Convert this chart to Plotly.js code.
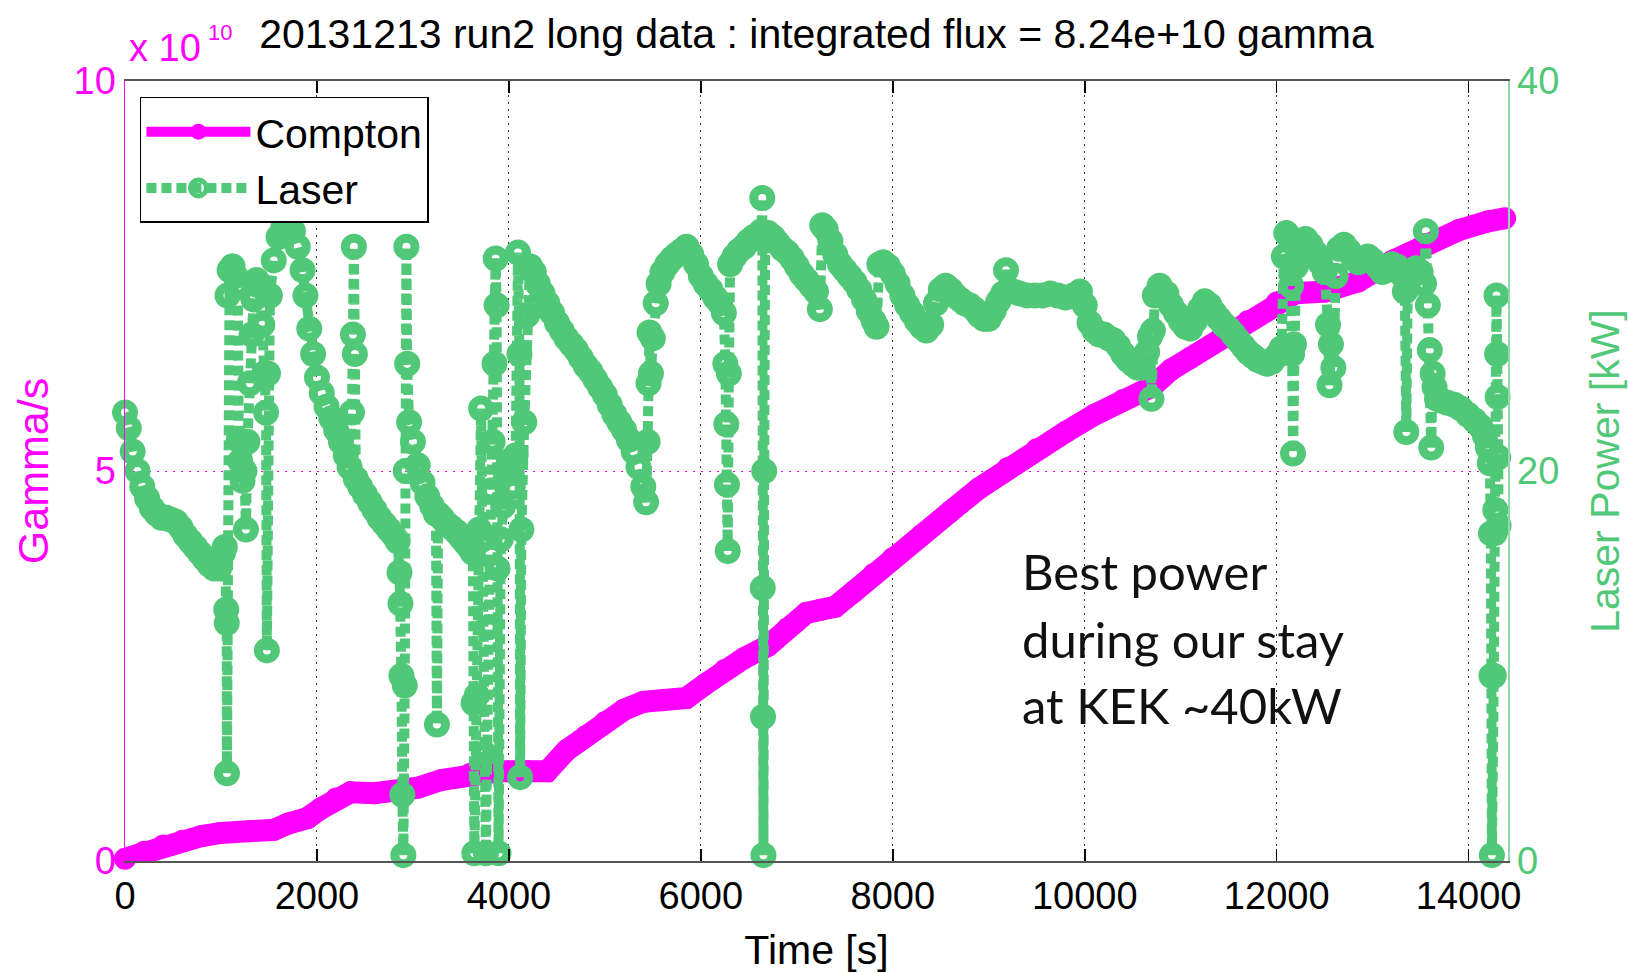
<!DOCTYPE html>
<html>
<head>
<meta charset="utf-8">
<script src="https://cdn.plot.ly/plotly-3.0.1.min.js"></script>
<style>
  html, body { margin: 0; padding: 0; background: #ffffff; }
  #chart { width: 1628px; height: 973px; }
</style>
</head>
<body>
<div id="chart"></div>
<script>
// ---- Data ----
// Compton (integrated gammas, in units of 1e10) vs time [s]
const comptonTime = [0, 200, 400, 600, 800, 1000, 1300, 1550, 1700, 1900, 2050, 2200, 2350, 2600, 2850,
  3050, 3300, 3600, 3900, 4200, 4400, 4600, 4800, 5000, 5200, 5400, 5600, 5850, 6050, 6250, 6450,
  6700, 6900, 7100, 7250, 7400, 7600, 7800, 8000, 8300, 8600, 8900, 9200, 9500, 9800, 10100, 10400,
  10700, 10900, 11100, 11400, 11700, 12000, 12200, 12500, 12850, 13200, 13550, 13900, 14200, 14380];
const comptonValue = [0.03, 0.12, 0.2, 0.26, 0.32, 0.36, 0.38, 0.4, 0.48, 0.55, 0.68, 0.8, 0.88, 0.87, 0.87,
  0.94, 1.04, 1.12, 1.15, 1.15, 1.15, 1.42, 1.6, 1.78, 1.94, 2.04, 2.06, 2.09, 2.27, 2.45, 2.6,
  2.76, 2.98, 3.18, 3.22, 3.26, 3.46, 3.68, 3.88, 4.18, 4.48, 4.78, 5.04, 5.28, 5.5, 5.72, 5.91,
  6.08, 6.3, 6.45, 6.68, 6.92, 7.16, 7.28, 7.3, 7.43, 7.69, 7.91, 8.09, 8.2, 8.24];

// Laser power [kW] vs time [s]
const laserTime = [0, 40, 80, 130, 180, 230, 280, 330, 380, 430, 480, 530, 580, 630, 680, 730, 780, 830, 880, 930, 980,
  1020, 1040, 1055, 1060, 1062, 1068, 1090, 1120, 1150, 1175, 1185, 1200, 1225, 1245, 1260, 1275, 1300, 1320, 1340,
  1370, 1400, 1430, 1450, 1470, 1478, 1490, 1510, 1550, 1600, 1650, 1700, 1750, 1800, 1850, 1880, 1920, 1960, 2000,
  2050, 2100, 2150, 2200, 2250, 2300, 2340, 2365, 2375, 2385, 2395, 2405, 2450, 2500, 2550, 2600, 2650, 2700, 2750,
  2800, 2840, 2860, 2870, 2880, 2890, 2900, 2915, 2925, 2932, 2940, 2960, 3000, 3050, 3100, 3150, 3200, 3240, 3250,
  3262, 3300, 3350, 3400, 3450, 3500, 3550, 3600, 3625, 3632, 3640, 3665, 3690, 3710, 3725, 3745, 3760, 3790, 3810,
  3830, 3850, 3862, 3872, 3882, 3892, 3915, 3940, 3970, 4000, 4040, 4070, 4095, 4110, 4117, 4130, 4160, 4190, 4220,
  4260, 4300, 4350, 4400, 4450, 4500, 4550, 4600, 4650, 4700, 4750, 4800, 4850, 4900, 4950, 5000, 5050, 5100, 5150,
  5200, 5250, 5300, 5350, 5400, 5430, 5445, 5455, 5465, 5480, 5500, 5530, 5560, 5600, 5650, 5700, 5750, 5800, 5850,
  5900, 5950, 6000, 6050, 6100, 6150, 6200, 6240, 6255, 6265, 6272, 6280, 6292, 6305, 6350, 6400, 6450, 6500, 6550,
  6600, 6630, 6640, 6645, 6648, 6652, 6660, 6670, 6700, 6750, 6800, 6850, 6900, 6950, 7000, 7050, 7100, 7150, 7200,
  7240, 7265, 7300, 7350, 7400, 7450, 7500, 7550, 7600, 7650, 7700, 7750, 7800, 7830, 7860, 7900, 7950, 8000, 8050,
  8100, 8150, 8200, 8250, 8300, 8350, 8400, 8450, 8500, 8550, 8600, 8650, 8700, 8750, 8800, 8850, 8900, 8950, 9000,
  9050, 9100, 9150, 9180, 9210, 9260, 9320, 9400, 9480, 9560, 9640, 9720, 9800, 9880, 9950, 10000, 10050, 10100,
  10150, 10200, 10250, 10300, 10350, 10400, 10450, 10500, 10550, 10600, 10650, 10680, 10695, 10710, 10730, 10780,
  10850, 10900, 10950, 11000, 11050, 11100, 11150, 11200, 11250, 11300, 11350, 11400, 11450, 11500, 11550, 11600,
  11650, 11700, 11750, 11800, 11850, 11900, 11950, 12000, 12050, 12075, 12100, 12130, 12150, 12160, 12170, 12180,
  12200, 12250, 12300, 12350, 12400, 12450, 12500, 12535, 12550, 12565, 12590, 12615, 12650, 12700, 12750, 12800,
  12850, 12900, 12950, 13000, 13050, 13100, 13150, 13200, 13250, 13300, 13335, 13350, 13365, 13400, 13450, 13500,
  13535, 13555, 13575, 13595, 13610, 13625, 13645, 13670, 13720, 13780, 13850, 13920, 13990, 14060, 14120, 14170,
  14200, 14220, 14232, 14238, 14242, 14262, 14270, 14278, 14290, 14296, 14302, 14308, 14312];
const laserPower = [23.0, 22.2, 21.0, 20.0, 19.2, 18.6, 18.1, 17.8, 17.6, 17.6, 17.5, 17.4, 17.1, 16.7, 16.4, 16.1, 15.8, 15.5, 15.2, 15.0, 15.0,
  15.8, 16.1, 12.9, 12.2, 4.5, 29.0, 30.3, 30.5, 30.0, 29.5, 21.6, 20.5, 19.5, 20.0, 17.0, 21.5, 24.5, 27.0, 28.8,
  29.8, 29.5, 27.5, 25.0, 23.0, 10.8, 25.0, 29.0, 30.8, 32.0, 32.5, 32.6, 32.3, 31.5, 30.3, 29.0, 27.3, 26.0, 24.8,
  24.0, 23.3, 22.7, 22.1, 21.5, 20.8, 20.2, 23.0, 27.0, 31.5, 26.0, 19.6, 19.2, 18.8, 18.4, 18.0, 17.6, 17.3, 17.0,
  16.7, 16.4, 14.8, 13.2, 9.5, 3.4, 0.3, 9.0, 20.0, 31.5, 25.5, 22.5, 21.5, 20.3, 19.4, 18.7, 18.2, 17.8, 7.0,
  17.8, 17.6, 17.3, 17.1, 16.9, 16.6, 16.3, 16.0, 15.8, 8.1, 0.4, 8.5, 17.0, 23.2, 16.5, 5.5, 0.4, 12.0, 19.0,
  21.5, 25.5, 30.9, 28.5, 15.0, 0.4, 16.5, 18.2, 19.8, 20.5, 19.2, 20.8, 31.2, 26.0, 4.3, 17.0, 22.5, 28.0, 30.5,
  30.2, 29.6, 29.1, 28.6, 28.1, 27.6, 27.2, 26.8, 26.5, 26.2, 25.8, 25.4, 25.1, 24.7, 24.3, 23.9, 23.4, 22.9, 22.5,
  22.1, 21.6, 21.0, 20.2, 19.2, 18.4, 21.5, 24.5, 27.1, 25.0, 26.8, 28.6, 29.6, 30.2, 30.6, 30.9, 31.1, 31.3, 31.5,
  31.1, 30.6, 30.0, 29.6, 29.3, 28.9, 28.6, 28.1, 25.5, 22.4, 19.3, 15.9, 25.0, 30.6, 31.0, 31.3, 31.5, 31.8, 32.0,
  32.1, 32.3, 34.0, 14.0, 7.4, 0.3, 20.0, 31.8, 32.2, 32.0, 31.7, 31.4, 31.2, 30.9, 30.5, 30.1, 29.8, 29.5, 29.2,
  28.3, 32.6, 32.4, 31.8, 31.1, 30.6, 30.3, 30.0, 29.7, 29.3, 28.8, 28.2, 27.7, 27.4, 30.6, 30.7, 30.5, 30.1, 29.6,
  29.0, 28.5, 28.1, 27.7, 27.4, 27.2, 27.5, 28.6, 29.3, 29.5, 29.3, 29.0, 28.8, 28.6, 28.5, 28.3, 28.0, 27.8, 27.8,
  28.2, 28.7, 29.1, 30.3, 29.3, 29.2, 29.1, 29.0, 29.0, 29.0, 29.1, 29.0, 28.9, 29.0, 29.2, 28.5, 27.6, 27.2,
  27.0, 27.0, 26.8, 26.7, 26.4, 26.0, 25.7, 25.5, 25.3, 25.3, 26.1, 26.9, 23.7, 27.2, 29.0, 29.5,
  29.1, 28.5, 28.1, 27.7, 27.4, 27.3, 27.7, 28.3, 28.7, 28.5, 28.1, 27.8, 27.5, 27.3, 27.0, 26.7,
  26.4, 26.1, 25.9, 25.7, 25.6, 25.5, 25.6, 25.9, 26.3, 31.0, 32.2, 32.0, 29.5, 26.0, 20.9, 26.5,
  30.5, 31.6, 31.9, 31.6, 31.2, 30.7, 30.2, 27.5, 24.4, 26.5, 25.3, 30.0, 31.4, 31.6, 31.3, 30.9,
  30.7, 30.8, 31.0, 30.8, 30.5, 30.2, 30.3, 30.6, 30.5, 30.1, 29.2, 22.0, 29.4, 30.0, 30.4, 30.2,
  29.6, 32.3, 28.5, 26.2, 21.2, 25.0, 24.3, 23.7, 23.6, 23.5, 23.4, 23.2, 22.9, 22.6, 22.3, 21.8,
  21.2, 20.4, 16.8, 9.5, 0.3, 9.5, 16.8, 18.0, 29.0, 26.0, 23.8, 20.7, 17.2];

// Axis ticks and labels
const timeTicks = [0, 2000, 4000, 6000, 8000, 10000, 12000, 14000];
const gammaTicks = [0, 5, 10];
const laserTicks = [0, 20, 40];
const titleText = '20131213 run2 long data : integrated flux = 8.24e+10 gamma';
const noteLines = ['Best power', 'during our stay', 'at KEK ~40kW'];

// ---- Styles ----
const MAGENTA = '#ff00ff';
const GREEN = '#50c878';
const FONT = 'Liberation Sans, Arial, Helvetica, sans-serif';

const traces = [
  {
    x: comptonTime, y: comptonValue, name: 'Compton', type: 'scatter', mode: 'lines+markers',
    line: {color: MAGENTA, width: 22},
    marker: {color: MAGENTA, size: 22, symbol: 'circle'},
    cliponaxis: false, yaxis: 'y', hoverinfo: 'x+y'
  },
  {
    x: laserTime, y: laserPower, name: 'Laser', type: 'scatter', mode: 'lines+markers',
    line: {color: GREEN, width: 10, dash: '10px,5px'},
    marker: {symbol: 'circle-open', size: 17, color: GREEN, line: {color: GREEN, width: 9}},
    cliponaxis: false, yaxis: 'y2', hoverinfo: 'x+y'
  }
];

const noteY = [0.372, 0.285, 0.2];
const annotations = noteLines.map((t, i) => ({
  text: t, xref: 'paper', yref: 'paper', x: 0.647, y: noteY[i], xanchor: 'left', yanchor: 'middle',
  showarrow: false, font: {family: 'Lato, Open Sans, sans-serif', size: 49, color: '#111111'}
}));
annotations.push({
  text: 'x 10', xref: 'paper', yref: 'paper', x: 0.0015, y: 1.042,
  xanchor: 'left', yanchor: 'middle', showarrow: false,
  font: {family: FONT, size: 38, color: MAGENTA}
});
annotations.push({
  text: '10', xref: 'paper', yref: 'paper', x: 0.0586, y: 1.0628,
  xanchor: 'left', yanchor: 'middle', showarrow: false,
  font: {family: FONT, size: 22, color: MAGENTA}
});

const layout = {
  width: 1628, height: 973,
  margin: {l: 125, r: 120, t: 81, b: 112, pad: 0},
  paper_bgcolor: '#ffffff', plot_bgcolor: '#ffffff',
  showlegend: true,
  title: {
    text: titleText, x: 0.5, xref: 'paper', xanchor: 'center',
    y: 1 - 34 / 973, yref: 'container', yanchor: 'middle',
    font: {family: FONT, size: 41, color: '#000000'}
  },
  xaxis: {
    range: [0, 14410], tickvals: timeTicks, ticktext: timeTicks.map(String),
    ticks: 'inside', ticklen: 12, tickwidth: 1.5, tickcolor: '#000000',
    showline: true, linecolor: '#555555', linewidth: 2, mirror: 'ticks',
    showgrid: true, gridcolor: '#333333', griddash: '2px,5px', gridwidth: 1,
    zeroline: false, ticklabelstandoff: 0,
    tickfont: {family: FONT, size: 38, color: '#000000'},
    title: {text: 'Time [s]', standoff: 21, font: {family: FONT, size: 41, color: '#000000'}}
  },
  yaxis: {
    range: [0, 10], tickvals: gammaTicks, ticktext: gammaTicks.map(String),
    ticks: '', showline: true, linecolor: MAGENTA, linewidth: 1.5,
    showgrid: true, gridcolor: MAGENTA, griddash: '2px,6px', gridwidth: 1,
    zeroline: false, ticklabelstandoff: 0,
    tickfont: {family: FONT, size: 38, color: MAGENTA},
    title: {text: 'Gamma/s', standoff: 11, font: {family: FONT, size: 43, color: MAGENTA}}
  },
  yaxis2: {
    range: [0, 40], tickvals: laserTicks, ticktext: laserTicks.map(String),
    overlaying: 'y', side: 'right', anchor: 'x',
    ticks: '', showline: true, linecolor: '#8fd9a8', linewidth: 1.5,
    showgrid: false, zeroline: false, ticklabelstandoff: 0,
    tickfont: {family: FONT, size: 38, color: GREEN},
    title: {text: 'Laser Power [kW]', standoff: 32, font: {family: FONT, size: 41, color: GREEN}}
  },
  legend: {
    x: 0.0108, y: 0.9795, xanchor: 'left', yanchor: 'top',
    bgcolor: '#ffffff', bordercolor: '#000000', borderwidth: 1.5,
    font: {family: FONT, size: 41, color: '#000000'},
    itemwidth: 104, tracegroupgap: 0, traceorder: 'normal'
  },
  annotations: annotations
};

Plotly.newPlot('chart', traces, layout, {displayModeBar: false, staticPlot: true});
</script>
</body>
</html>
